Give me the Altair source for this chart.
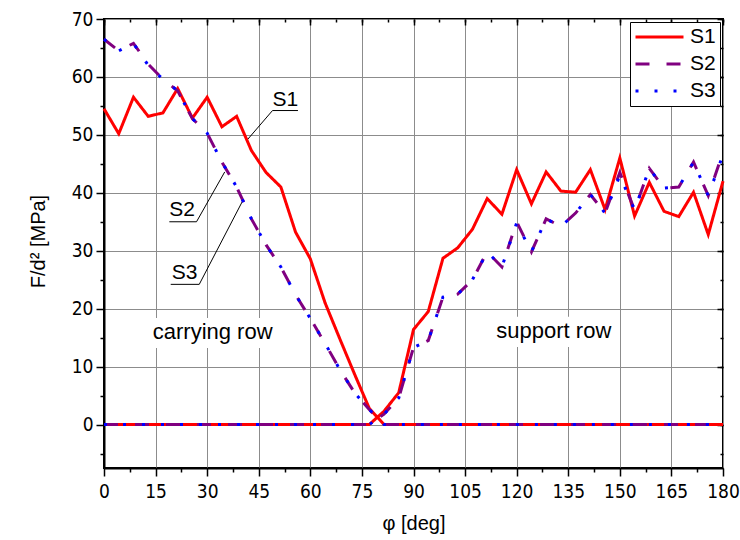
import altair as alt
import pandas as pd

# ---------------- data ----------------
PHI = [0, 4.29, 8.57, 12.86, 17.14, 21.43, 25.71, 30, 34.29, 38.57, 42.86,
       47.14, 51.43, 55.71, 60, 64.29, 68.57, 72.86, 77.14, 81.43, 85.71,
       90, 94.29, 98.57, 102.86, 107.14, 111.43, 115.71, 120, 124.29, 128.57,
       132.86, 137.14, 141.43, 145.71, 150, 154.29, 158.57, 162.86, 167.14,
       171.43, 175.71, 180]

# carrying row (non-zero up to ~77 deg, zero afterwards)
S1_CARRY = [54.5, 50.2, 56.5, 53.2, 53.8, 58.0, 52.9, 56.5, 51.4, 53.2, 47.3,
            43.5, 41.0, 33.2, 28.6, 21.0, 14.8, 8.7, 2.8, 0, 0,
            0, 0, 0, 0, 0, 0, 0, 0, 0, 0,
            0, 0, 0, 0, 0, 0, 0, 0, 0,
            0, 0, 0]
S2_CARRY = [66.5, 64.5, 65.8, 62.2, 59.6, 57.6, 52.8, 50.3, 45.3, 41.0, 35.5,
            31.0, 27.2, 22.4, 18.3, 14.0, 9.5, 5.5, 2.6, 0, 0,
            0, 0, 0, 0, 0, 0, 0, 0, 0, 0,
            0, 0, 0, 0, 0, 0, 0, 0, 0,
            0, 0, 0]
S3_CARRY = [66.5, 64.5, 65.8, 62.0, 59.6, 57.6, 52.8, 50.3, 45.3, 41.0, 35.5,
            31.0, 27.2, 22.4, 18.3, 14.0, 9.5, 5.5, 2.6, 0, 0,
            0, 0, 0, 0, 0, 0, 0, 0, 0, 0,
            0, 0, 0, 0, 0, 0, 0, 0, 0,
            0, 0, 0]

# support row (zero up to ~77 deg, non-zero afterwards)
S1_SUPPORT = [0, 0, 0, 0, 0, 0, 0, 0, 0, 0, 0,
              0, 0, 0, 0, 0, 0, 0, 0, 2.3, 5.5,
              16.4, 19.5, 28.7, 30.5, 33.7, 39.0, 36.3, 44.0, 38.1, 43.6,
              40.3, 40.1, 44.0, 37.1, 46.0, 36.0, 41.8, 36.8, 35.9,
              40.1, 32.8, 42.0]
S2_SUPPORT = [0, 0, 0, 0, 0, 0, 0, 0, 0, 0, 0,
              0, 0, 0, 0, 0, 0, 0, 0, 1.8, 4.6,
              13.3, 14.5, 22.0, 22.5, 25.0, 29.8, 27.2, 35.0, 29.8, 35.5,
              34.2, 36.5, 39.7, 36.5, 43.5, 37.0, 44.2, 40.8, 41.0,
              45.3, 39.5, 47.0]
S3_SUPPORT = [0, 0, 0, 0, 0, 0, 0, 0, 0, 0, 0,
              0, 0, 0, 0, 0, 0, 0, 0, 1.8, 4.6,
              13.3, 14.5, 22.0, 22.5, 25.0, 29.8, 27.2, 34.8, 29.8, 35.5,
              34.2, 36.5, 39.7, 36.5, 43.0, 37.0, 44.2, 40.8, 41.0,
              45.3, 39.5, 46.6]

SERIES = ["S1", "S2", "S3"]
COLORS = ["#FF0000", "#800080", "#0000FF"]
DASHES = [[1, 0], [14, 17], [3, 16]]

X_TICKS = [0, 7.5, 15, 22.5, 30, 37.5, 45, 52.5, 60, 67.5, 75, 82.5, 90,
           97.5, 105, 112.5, 120, 127.5, 135, 142.5, 150, 157.5, 165,
           172.5, 180]
Y_TICKS = [-5, 0, 5, 10, 15, 20, 25, 30, 35, 40, 45, 50, 55, 60, 65, 70]

# annotation labels (in data coordinates)
LABEL_TEXT = ["S1", "S2", "S3"]
LABEL_PHI = [52.7, 22.7, 23.4]
LABEL_F = [54.9, 36.0, 25.05]

# underline and leader segments
SEG_PHI1 = [49.0, 49.0, 19.0, 26.9, 19.4, 27.7]
SEG_F1 = [54.2, 54.2, 35.0, 35.0, 24.2, 24.2]
SEG_PHI2 = [56.4, 41.6, 26.9, 35.1, 27.7, 40.4]
SEG_F2 = [54.2, 49.1, 35.0, 43.6, 24.2, 38.7]

ROW_TEXT = ["carrying row", "support row"]
ROW_PHI = [31.6, 130.8]
ROW_F = [14.8, 15.0]
BOX_PHI1 = [13.8, 113.2]
BOX_PHI2 = [49.4, 148.2]
BOX_F1 = [13.2, 13.4]
BOX_F2 = [18.4, 18.6]

# ---------------- tables ----------------
rows = []
for name, carry, support in [("S1", S1_CARRY, S1_SUPPORT),
                             ("S2", S2_CARRY, S2_SUPPORT),
                             ("S3", S3_CARRY, S3_SUPPORT)]:
    for p, v in zip(PHI, carry):
        rows.append({"phi": p, "F": v, "series": name, "row": "carrying"})
    for p, v in zip(PHI, support):
        rows.append({"phi": p, "F": v, "series": name, "row": "support"})
df = pd.DataFrame(rows)

labels_df = pd.DataFrame({"phi": LABEL_PHI, "F": LABEL_F, "text": LABEL_TEXT})
seg_df = pd.DataFrame({"phi": SEG_PHI1, "F": SEG_F1, "phi2": SEG_PHI2, "F2": SEG_F2})
row_df = pd.DataFrame({"phi": ROW_PHI, "F": ROW_F, "text": ROW_TEXT})
box_df = pd.DataFrame({"phi": BOX_PHI1, "phi2": BOX_PHI2, "F": BOX_F1, "F2": BOX_F2})

# ---------------- scales / axes ----------------
LABEL_FONT = "Liberation Sans Narrow, Arial Narrow, DejaVu Sans Condensed, Liberation Sans"
TITLE_FONT = "Liberation Sans, Arial"

x_scale = alt.Scale(domain=[0, 180], nice=False, zero=False)
y_scale = alt.Scale(domain=[-7.5, 70], nice=False, zero=False)

x_axis = alt.Axis(
    values=X_TICKS,
    labelExpr="datum.value % 15 === 0 ? datum.label : ''",
    tickSize={"condition": {"test": "datum.value % 15 === 0", "value": 8}, "value": 4},
    gridOpacity={"condition": {"test": "datum.value % 15 === 0", "value": 1}, "value": 0},
    grid=True, gridColor="#8c8c8c", gridWidth=1,
    domainColor="black", domainWidth=2, tickColor="black", tickWidth=1.5,
    labelFont=LABEL_FONT, labelFontSize=19, labelColor="black", labelPadding=6,
    labelFlush=False, labelOverlap=False,
    titleFont=TITLE_FONT, titleFontSize=20, titleFontWeight="normal",
    titleColor="black", titleY=55, titleBaseline="middle",
)
y_axis = alt.Axis(
    values=Y_TICKS,
    labelExpr="datum.value % 10 === 0 ? datum.label : ''",
    tickSize={"condition": {"test": "datum.value % 10 === 0", "value": 8}, "value": 4},
    gridOpacity={"condition": {"test": "datum.value % 10 === 0", "value": 1}, "value": 0},
    grid=True, gridColor="#8c8c8c", gridWidth=1,
    domainColor="black", domainWidth=2, tickColor="black", tickWidth=1.5,
    labelFont=LABEL_FONT, labelFontSize=19, labelColor="black", labelPadding=3,
    labelFlush=False, labelOverlap=False,
    titleFont=TITLE_FONT, titleFontSize=20, titleFontWeight="normal",
    titleColor="black", titleX=-66, titleY=222, titleAngle=-90,
    titleAlign="center", titleBaseline="middle",
)


def X():
    return alt.X("phi:Q", scale=x_scale, axis=x_axis, title="φ [deg]")


def Y():
    return alt.Y("F:Q", scale=y_scale, axis=y_axis, title="F/d² [MPa]")


legend = alt.Legend(
    orient="top-right", offset=3, title=None,
    symbolType="stroke", symbolSize=2304, symbolStrokeWidth=3,
    labelFont=TITLE_FONT, labelFontSize=21, labelColor="black", labelOffset=5,
    strokeColor="black", fillColor="white", padding=4,
    clipHeight=22, rowPadding=5,
)
color_enc = alt.Color("series:N", scale=alt.Scale(domain=SERIES, range=COLORS),
                      legend=legend, title=None)
dash_enc = alt.StrokeDash("series:N", scale=alt.Scale(domain=SERIES, range=DASHES),
                          legend=legend, title=None)

boxes = alt.Chart(box_df).mark_rect(color="white").encode(
    x=X(), x2="phi2:Q", y=Y(), y2="F2:Q")

row_text = alt.Chart(row_df).mark_text(
    font=TITLE_FONT, fontSize=22, color="black", align="center",
    baseline="alphabetic").encode(x=X(), y=Y(), text="text:N")

leaders = alt.Chart(seg_df).mark_rule(color="black", strokeWidth=1).encode(
    x=X(), x2="phi2:Q", y=Y(), y2="F2:Q")

s_text = alt.Chart(labels_df).mark_text(
    font=TITLE_FONT, fontSize=21, color="black", align="center",
    baseline="alphabetic").encode(x=X(), y=Y(), text="text:N")


def series_line(name):
    return alt.Chart(df).transform_filter(alt.datum.series == name).mark_line(
        strokeWidth=3, strokeCap="butt", strokeJoin="miter").encode(
        x=X(), y=Y(), color=color_enc, strokeDash=dash_enc, detail="row:N",
        order="phi:Q")


main = alt.layer(
    boxes, row_text, leaders, s_text,
    series_line("S1"), series_line("S2"), series_line("S3"),
)

# mirrored inward ticks on the top and right frame (axes moved inside by a negative offset)
X_MAJOR = [0, 15, 30, 45, 60, 75, 90, 105, 120, 135, 150, 165, 180]
Y_MAJOR = [0, 10, 20, 30, 40, 50, 60, 70]


def mirror(xvals, yvals, size):
    ax_x = alt.Axis(orient="top", values=xvals, tickSize=size, offset=-size,
                    labels=False, domain=False, grid=False, tickColor="black",
                    tickWidth=1.5, title=None)
    ax_y = alt.Axis(orient="right", values=yvals, tickSize=size, offset=-size,
                    labels=False, domain=False, grid=False, tickColor="black",
                    tickWidth=1.5, title=None)
    return alt.Chart(box_df).mark_point(opacity=0).encode(
        x=alt.X("phi:Q", scale=x_scale, axis=ax_x),
        y=alt.Y("F:Q", scale=y_scale, axis=ax_y))


chart = alt.layer(
    main, mirror(X_MAJOR, Y_MAJOR, 6), mirror(X_TICKS, Y_TICKS, 3),
).resolve_axis(x="independent", y="independent").properties(
    width=619, height=449,
    autosize=alt.AutoSizeParams(type="none"),
    padding={"left": 104, "top": 19, "right": 17, "bottom": 72},
    background="white",
).configure_view(stroke="black", strokeWidth=2)

chart.save("out.html", embed_options={"renderer": "svg", "actions": False})
